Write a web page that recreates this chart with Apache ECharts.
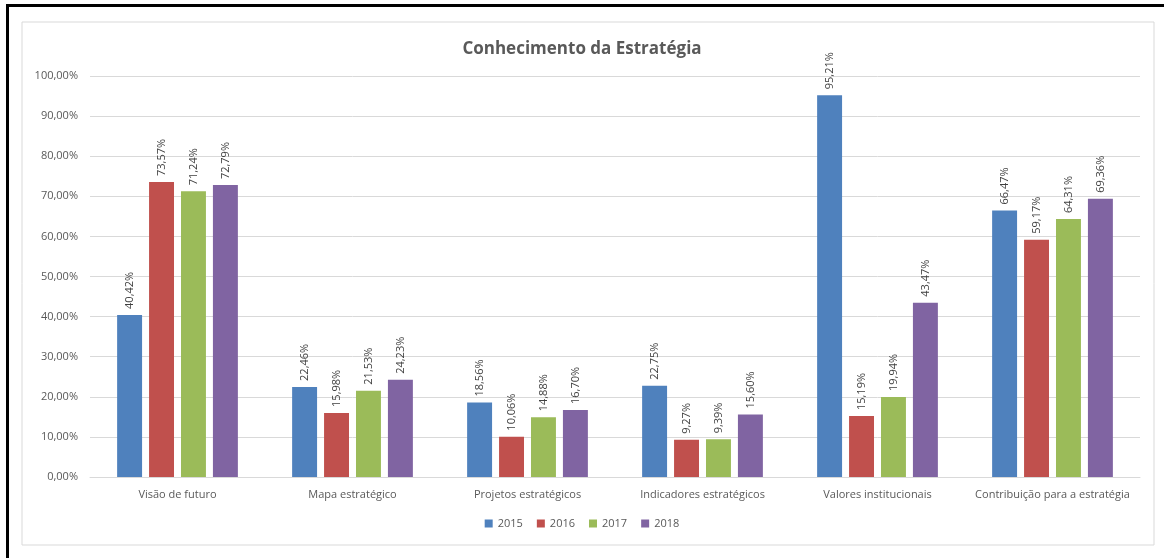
<!DOCTYPE html>
<html><head><meta charset="utf-8">
<script src="https://cdn.jsdelivr.net/npm/echarts@6/dist/echarts.min.js"></script>
<style>html,body{margin:0;padding:0;background:#fff}#c{width:1164px;height:558px}</style>
</head><body><div id="c"></div>
<script>
const categories = ['Visão de futuro','Mapa estratégico','Projetos estratégicos','Indicadores estratégicos','Valores institucionais','Contribuição para a estratégia'];
const seriesNames = ['2015','2016','2017','2018'];
const v2015 = [40.42, 22.46, 18.56, 22.75, 95.21, 66.47];
const v2016 = [73.57, 15.98, 10.06, 9.27, 15.19, 59.17];
const v2017 = [71.24, 21.53, 14.88, 9.39, 19.94, 64.31];
const v2018 = [72.79, 24.23, 16.70, 15.60, 43.47, 69.36];
const colors = ['#4F81BD','#C0504D','#9BBB59','#8064A2'];
const dataSets = [v2015, v2016, v2017, v2018];
const fmt = v => v.toFixed(2).replace('.', ',') + '%';
const font = 'Open Sans';

const chart = echarts.init(document.getElementById('c'));
chart.setOption({
  animation: false,
  textStyle: { fontFamily: font },
  title: { text: 'Conhecimento da Estratégia', left: 'center', top: 36,
    textStyle: { fontFamily: font, fontSize: 17, fontWeight: 'bold', color: '#595959' } },
  legend: { bottom: 24, left: 'center', itemWidth: 8, itemHeight: 8, itemGap: 14, icon: 'rect',
    textStyle: { fontSize: 11, color: '#595959', fontFamily: font }, data: seriesNames },
  grid: { left: 90, right: 24, top: 76, bottom: 81, containLabel: false },
  xAxis: { type: 'category', data: categories,
    axisLine: { lineStyle: { color: '#d9d9d9' } }, axisTick: { show: false },
    axisLabel: { color: '#595959', fontSize: 11, margin: 12, interval: 0, fontFamily: font } },
  yAxis: { type: 'value', min: 0, max: 100, interval: 10,
    axisLabel: { formatter: v => v.toFixed(2).replace('.', ',') + '%', color: '#595959', fontSize: 11, margin: 12, fontFamily: font },
    splitLine: { lineStyle: { color: '#d9d9d9' } }, axisLine: { show: false }, axisTick: { show: false } },
  graphic: [
    { type: 'rect', shape: { x: 22, y: 22, width: 1132, height: 523 }, style: { fill: 'none', stroke: '#d9d9d9', lineWidth: 1 }, z: -1 },
    { type: 'line', shape: { x1: 6, y1: 5.5, x2: 1164, y2: 5.5 }, style: { stroke: '#000', lineWidth: 3 } },
    { type: 'line', shape: { x1: 7.5, y1: 4, x2: 7.5, y2: 558 }, style: { stroke: '#000', lineWidth: 3 } }
  ],
  series: dataSets.map((d, i) => ({
    name: seriesNames[i], type: 'bar', data: d,
    itemStyle: { color: colors[i] },
    barGap: '28%', barCategoryGap: '31%',
    label: { show: true, position: 'top', rotate: 90, align: 'left', verticalAlign: 'middle', distance: 6,
      formatter: p => fmt(p.value), color: '#404040', fontSize: 11, fontFamily: font }
  }))
});
</script></body></html>
